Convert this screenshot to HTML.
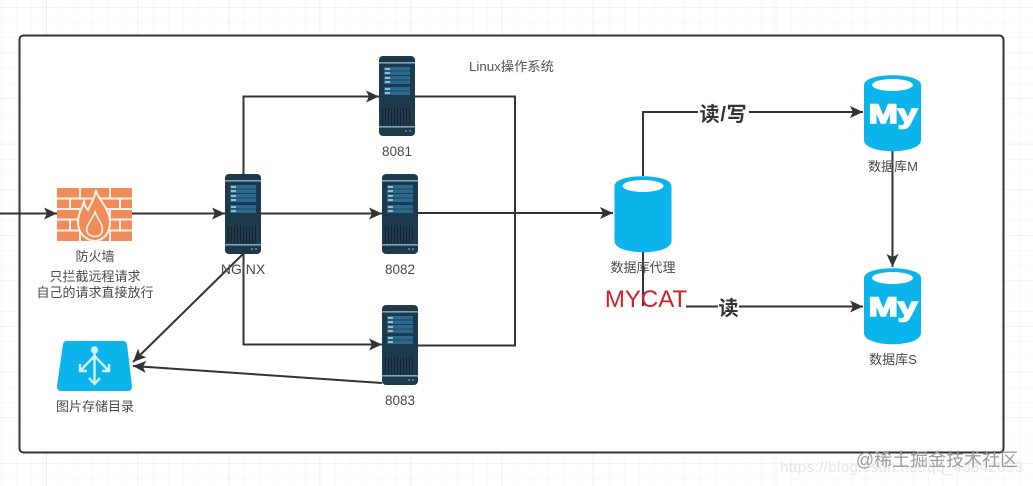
<!DOCTYPE html>
<html><head><meta charset="utf-8">
<style>
html,body{margin:0;padding:0;background:#fff;width:1033px;height:486px;overflow:hidden}
svg{display:block;filter:blur(.35px)}
text{font-family:"Liberation Sans","Noto Sans CJK SC",sans-serif;fill:#4a4a4a;font-size:13px;text-anchor:middle}
</style></head><body>
<svg width="1033" height="486" viewBox="0 0 1033 486" xmlns="http://www.w3.org/2000/svg">
<defs>
<pattern id="minor" width="15.2" height="15.2" patternUnits="userSpaceOnUse" x="1" y="7">
<path d="M15.2 0H0V15.2" fill="none" stroke="#f2f2f2" stroke-width="1"/>
</pattern>
<pattern id="major" width="91" height="45.6" patternUnits="userSpaceOnUse" x="46" y="7">
<path d="M91 0H0V45.6" fill="none" stroke="#e8e8e8" stroke-width="1"/>
</pattern>
<marker id="a" markerUnits="userSpaceOnUse" markerWidth="14" markerHeight="12" refX="13" refY="6" orient="auto">
<path d="M0 0L13 6L0 12L3 6Z" fill="#333"/>
</marker>
<g id="srv">
<rect width="36" height="80" rx="4" fill="#1d3a4c"/>
<rect y="6" width="36" height="1.6" fill="#7fa3b3"/>
<rect x="5" y="11" width="26" height="8" fill="#2a6a90"/>
<rect x="5" y="20" width="26" height="8" fill="#2a6a90"/>
<rect x="5" y="31" width="26" height="8" fill="#2a6a90"/>
<path d="M5 15H31M5 24H31M5 35H31" stroke="#1d3a4c" stroke-width=".8"/>
<path d="M6 13h5M6 17h5M6 22h5M6 26h5M6 33h5M6 37h5" stroke="#d8edf7" stroke-width="1.300"/>
<rect x="3" y="52" width="30" height="17" fill="#12242f"/>
<path d="M5 52v17M8 52v17M11 52v17M14 52v17M17 52v17M20 52v17M23 52v17M26 52v17M29 52v17M32 52v17" stroke="#2f5568" stroke-width="1"/>
<rect y="70" width="36" height="1.600" fill="#7fa3b3"/>
<circle cx="27" cy="75" r="1" fill="#6d8d9b"/><circle cx="31" cy="75" r="1" fill="#6d8d9b"/>
</g>
<g id="cyl">
<path d="M0 10C0 -3 57 -3 57 10V65C57 80 0 80 0 65Z" fill="#0bb5ec"/>
<ellipse cx="28.500" cy="10" rx="20.500" ry="6" fill="#fff"/>
</g>
</defs>
<rect width="1033" height="486" fill="#fff"/>
<rect width="1033" height="486" fill="url(#minor)"/>
<rect width="1033" height="486" fill="url(#major)"/>
<text x="780" y="472" style="font-size:15px;fill:#e6e6e6;text-anchor:start;letter-spacing:.4px">https://blog.csdn.net/qq_43842093</text>
<rect x="19.500" y="35.500" width="984" height="417" rx="4" fill="#fff" stroke="#333" stroke-width="2"/>

<g fill="none" stroke="#333" stroke-width="2">
<path d="M0 213.500H57" marker-end="url(#a)"/>
<path d="M132 213.500H225" marker-end="url(#a)"/>
<path d="M243.500 174V96.500H379" marker-end="url(#a)"/>
<path d="M261 213.500H382" marker-end="url(#a)"/>
<path d="M243.500 254V344.500H382" marker-end="url(#a)"/>
<path d="M415 96.500H515V345.500H418"/>
<path d="M418 213H613" marker-end="url(#a)"/>
<path d="M643 176V112H863" marker-end="url(#a)"/>
<path d="M643 252V306"/>
<path d="M686 306.500H863" marker-end="url(#a)"/>
<path d="M892.500 151V267" marker-end="url(#a)"/>
<path d="M243 254L133 362" marker-end="url(#a)"/>
<path d="M382 383L133 366" marker-end="url(#a)"/>
</g>

<!-- firewall -->
<g>
<rect x="57" y="188" width="75" height="53" fill="#ee8d5a"/>
<path d="M57 198.500H132M57 209H132M57 219.500H132M57 230.500H132" stroke="#fdf0e8" stroke-width="2"/>
<path d="M80 188v10M110 188v10M70 198v11M120 198v11M80 209v11M110 209v11M70 220v11M120 220v11M80 231v10M110 231v10" stroke="#fdf0e8" stroke-width="2"/>
<path d="M96 190C97 199 109 206 110 222C110 233 104 240 95 241C85 240 78 233 78 222C78 214 82 208 84 202C85 207 87 209 88 210C91 203 95 198 96 190Z" fill="#ee8d5a" stroke="#fdf0e8" stroke-width="2"/>
<path d="M95 212C97 219 104 224 102 232C100 238 90 238 87 232C85 226 92 220 95 212Z" fill="#ee8d5a" stroke="#fdf0e8" stroke-width="1.600"/>
</g>

<use href="#srv" x="225" y="174"/>
<use href="#srv" x="379" y="56"/>
<use href="#srv" x="382" y="174"/>
<use href="#srv" x="382" y="305"/>

<use href="#cyl" x="614.500" y="176"/>
<use href="#cyl" x="864" y="75"/>
<use href="#cyl" x="864" y="268"/>

<text transform="translate(893 123) scale(1.3 1)" style="font-size:27px;font-weight:bold;fill:#fff;stroke:#fff;stroke-width:1.6px">My</text>
<text transform="translate(893 316) scale(1.3 1)" style="font-size:27px;font-weight:bold;fill:#fff;stroke:#fff;stroke-width:1.6px">My</text>

<!-- storage -->
<path d="M66 341H123Q126 341 127 344L132 386Q132 391 128 391H61Q57 391 57 386L63 344Q64 341 66 341Z" fill="#0bb5ec"/>
<g fill="none" stroke="#d4f1fb" stroke-width="2.400">
<circle cx="94.500" cy="350" r="2.500" fill="#d4f1fb"/>
<path d="M94.500 352V384M94.500 356L81 370M94.500 356L108 370"/>
<path d="M89 378L94.500 384L100 378M80 364V371H87M109 364V371H102"/>
</g>

<text x="95" y="261">防火墙</text>
<text x="95" y="281">只拦截远程请求</text>
<text x="95" y="297">自己的请求直接放行</text>
<text x="243" y="274" style="font-size:14px">NGINX</text>
<text x="397" y="156" style="font-size:13.500px">8081</text>
<text x="400" y="274" style="font-size:13.500px">8082</text>
<text x="400" y="405" style="font-size:13.500px">8083</text>
<text x="511.500" y="71" style="font-size:13.300px;fill:#555">Linux操作系统</text>
<text x="643" y="272">数据库代理</text>
<text x="893" y="171">数据库M</text>
<text x="893" y="364">数据库S</text>
<text x="95" y="411">图片存储目录</text>

<rect x="698" y="102" width="51" height="22" fill="#fff"/>
<text x="723.500" y="121" style="font-size:20px;font-weight:bold;fill:#333;letter-spacing:.8px">读/写</text>
<rect x="718" y="297" width="21" height="22" fill="#fff"/>
<text x="728.500" y="315" style="font-size:20px;font-weight:bold;fill:#333">读</text>
<text x="646" y="307" style="font-size:24px;fill:#d01f25">MYCAT</text>

<text x="937" y="466" style="font-size:18px;fill:#9c9c9c">@稀土掘金技术社区</text>
</svg>
</body></html>
